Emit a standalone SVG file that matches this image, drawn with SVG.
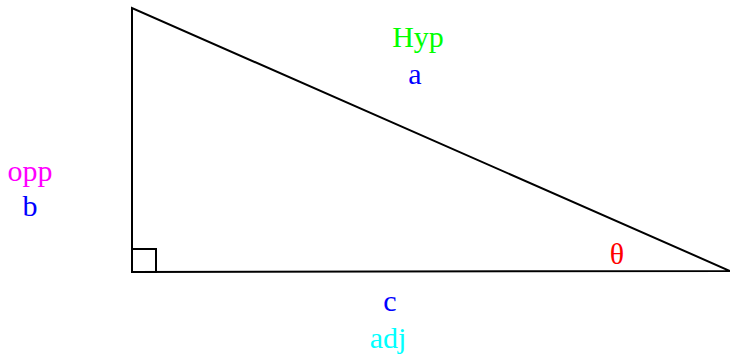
<svg xmlns="http://www.w3.org/2000/svg" width="730" height="356" viewBox="0 0 730 356">
<style>
text{font-family:"Liberation Serif","Times New Roman",serif;font-size:30px;text-anchor:middle}
.ln{fill:none;stroke:#000;stroke-width:2}
</style>
<rect width="730" height="356" fill="#fff"/>
<g id="connectors">
<path class="ln" d="M132,8 L132,272 L730,271 Z"/>
<rect class="ln" x="132" y="249" width="24" height="23"/>
</g>
<g id="labels">
<text x="418" y="47" fill="#00ff00">Hyp</text>
<text x="415" y="84" fill="#0000ff">a</text>
<text x="30" y="181" fill="#ff00ff">opp</text>
<text x="30" y="216" fill="#0000ff">b</text>
<text x="390" y="311" fill="#0000ff">c</text>
<text x="388" y="348" fill="#00ffff">adj</text>
<text x="617" y="264" fill="#ff0000">θ</text>
</g>
</svg>
